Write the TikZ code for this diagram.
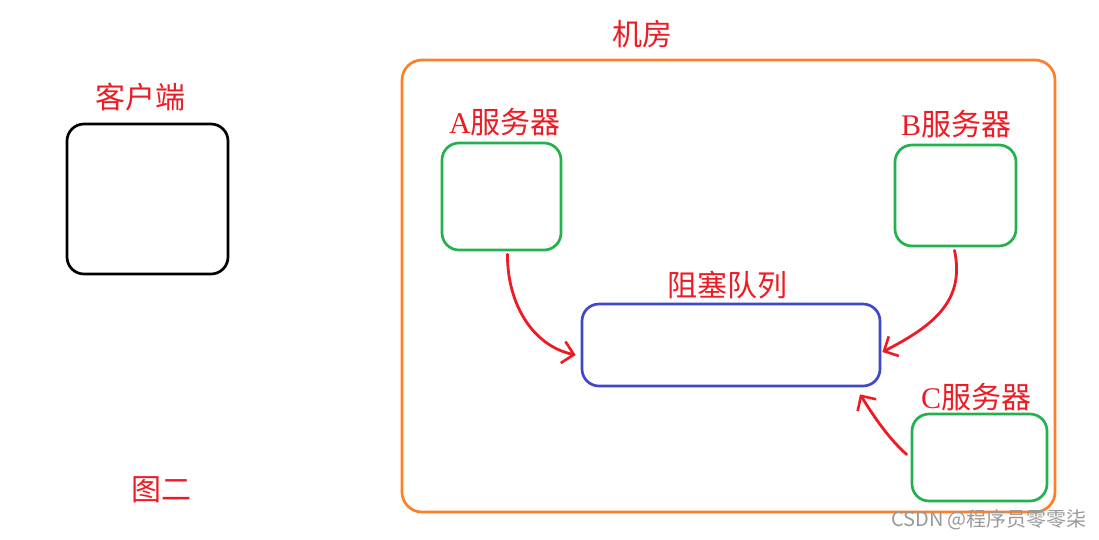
\documentclass[tikz,border=0pt]{standalone}
\usepackage{fontspec}
\usetikzlibrary{arrows.meta,calc}
\newfontfamily\cjk{Noto Sans CJK SC}
\newfontfamily\latserif{Liberation Serif}
\definecolor{pred}{RGB}{237,28,36}
\definecolor{porange}{RGB}{255,127,39}
\definecolor{pgreen}{RGB}{34,177,76}
\definecolor{pblue}{RGB}{63,72,204}
\tikzset{
  box/.style={draw, line width=2.7pt, rounded corners=17pt, inner sep=0pt},
  lbl/.style={text=pred, font=\cjk\fontsize{30}{32}\selectfont, inner sep=0pt},
  redarrow/.style={draw=pred, line width=2.8pt, line cap=round, -{Straight Barb[length=11pt,width=22pt,line width=2.6pt]}},
}
\begin{document}
\begin{tikzpicture}[x=1pt,y=-1pt]
\useasboundingbox (0,0) rectangle (1099,539);
% client
\node[box, draw=black, minimum width=161pt, minimum height=150pt] (client) at (147.5,199) {};
\node[lbl] (clientlbl) at (140,97) {客户端};
% machine room
\node[box, draw=porange, rounded corners=20pt, minimum width=653pt, minimum height=452pt] (room) at (728.5,286) {};
\node[lbl] (roomlbl) at (642,34) {机房};
% servers
\node[box, draw=pgreen, minimum width=119pt, minimum height=107pt] (A) at (501.5,196.5) {};
\node[lbl] (Albl) at (505,122) {{\latserif A}服务器};
\node[box, draw=pgreen, minimum width=121pt, minimum height=101pt] (B) at (955.5,195.5) {};
\node[lbl] (Blbl) at (956,124) {{\latserif B}服务器};
\node[box, draw=pgreen, minimum width=135pt, minimum height=87pt] (C) at (979.5,457.5) {};
\node[lbl] (Clbl) at (976,397) {{\latserif C}服务器};
% queue
\node[box, draw=pblue, minimum width=298pt, minimum height=82pt] (Q) at (731,345) {};
\node[lbl] (Qlbl) at (727,285) {阻塞队列};
% caption
\node[lbl] (cap) at (161,490) {图二};
% watermark
\node[text=black!40, font=\cjk\fontsize{20}{22}\selectfont, inner sep=0pt] (wm) at (989,520) {CSDN @程序员零零柒};
% arrows
\coordinate (a0) at ($(A.south)+(6,3)$);
\coordinate (a1) at ($(Q.west)+(-5,10)$);
\draw[redarrow] (a0) .. controls (507,300) and (530,345) .. (a1);
\coordinate (b0) at ($(B.south)+(-1,3)$);
\coordinate (b1) at ($(Q.east)+(1,7)$);
\draw[redarrow] (b0) .. controls (965,300) and (935,325) .. (b1);
\coordinate (c0) at ($(C.west)+(-4,-3)$);
\coordinate (c1) at ($(Q.south)+(129,7)$);
\draw[redarrow] (c0) .. controls (885,435) and (870,410) .. (c1);
\end{tikzpicture}
\end{document}
